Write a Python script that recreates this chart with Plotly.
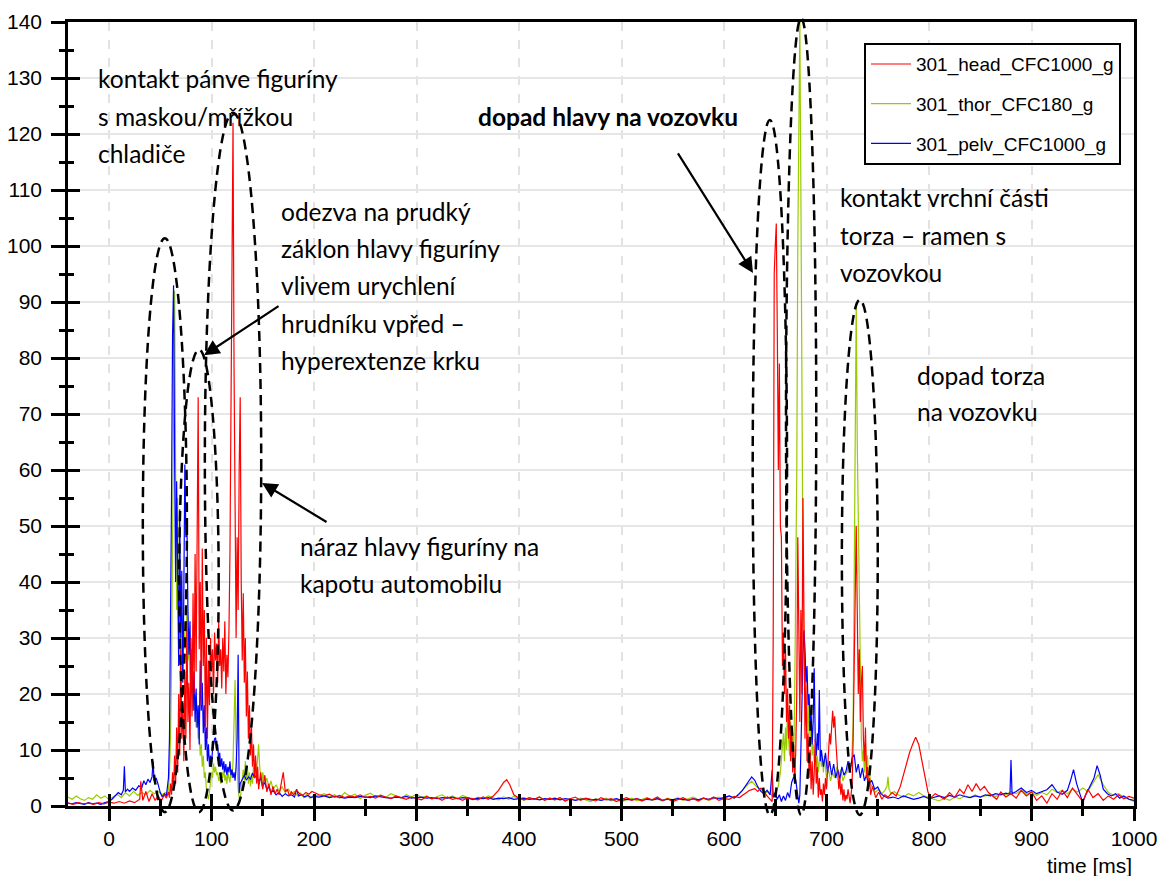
import plotly.graph_objects as go

# ---------------- data (time [ms], acceleration [g]) ----------------
head_pts = [
    (-40, 0.5), (-35, 0.3), (-30, 0.6), (-25, 0.4), (-20, 0.5), (-15, 0.3), (-10, 0.6), (-5, 0.4),
    (0, 0.7), (5, 0.5), (10, 0.8), (15, 0.5), (20, 0.9), (25, 0.6), (30, 1.2), (31, 4.4), (33, 1.0),
    (36, 2.6), (39, 0.8), (42, 2.2), (45, 1.0), (48, 1.8), (51, 0.9), (54, 2.0), (56, 1.4), (58, 2.5),
    (59, 1.5), (60, 4), (61, 2), (62, 6), (63, 3), (64, 9), (65, 4), (66, 14), (67, 6), (68, 20),
    (69, 9), (70, 28), (71, 12), (72, 18), (73, 8), (74, 24), (75, 12), (76, 33), (77, 15), (78, 22),
    (79, 10), (80, 30), (81, 16), (82, 38), (83, 20), (84, 45), (85, 24), (86, 50), (87, 73), (88, 28),
    (89, 40), (90, 18), (91, 46), (92, 25), (93, 35), (94, 14), (95, 30), (96, 12), (97, 26), (98, 18),
    (99, 30), (100, 24), (101, 28), (102, 20), (103, 31), (104, 26), (105, 29), (106, 22), (107, 33),
    (108, 25), (109, 28), (110, 21), (111, 30), (112, 24), (113, 33), (114, 20), (115, 27), (116, 23),
    (117, 31), (118, 45), (119, 70), (120, 100), (121, 122), (122, 78), (123, 40), (124, 30), (125, 48),
    (126, 35), (127, 60), (128, 73), (129, 40), (130, 26), (131, 38), (132, 22), (133, 30), (134, 16),
    (135, 24), (136, 12), (137, 18), (138, 9), (139, 14), (140, 7), (141, 11), (142, 5), (143, 9),
    (144, 4), (145, 7), (146, 3), (148, 6), (150, 3), (152, 5.5), (154, 2.5), (156, 4), (158, 2),
    (160, 3.5), (162, 2.2), (164, 3), (166, 2), (168, 4), (170, 6), (172, 2.5), (174, 3), (176, 1.8),
    (178, 2.5), (180, 2.0), (183, 2.8), (186, 2.2), (189, 1.9), (192, 2.4), (195, 2.1), (198, 2.6),
    (200, 2.4), (205, 2.0), (210, 1.8), (215, 2.1), (220, 1.6), (225, 1.9), (230, 1.5), (235, 1.8),
    (240, 1.6), (245, 2.0), (250, 1.5), (255, 1.7), (260, 1.4), (265, 1.9), (270, 1.6), (275, 1.3),
    (280, 1.8), (285, 1.5), (290, 1.2), (295, 1.6), (300, 1.4), (305, 1.1), (310, 1.7), (315, 1.3),
    (320, 1.5), (325, 1.0), (330, 1.6), (335, 1.2), (340, 1.4), (345, 1.0), (350, 1.5), (355, 1.3),
    (360, 1.1), (365, 1.6), (370, 1.2), (375, 1.8), (380, 2.8), (385, 4.2), (388, 4.7), (391, 3.8),
    (395, 2.0), (400, 1.4), (405, 1.1), (410, 1.5), (415, 1.2), (420, 1.6), (425, 1.0), (430, 1.4),
    (435, 1.1), (440, 1.5), (445, 0.9), (450, 1.3), (455, 1.6), (460, 1.0), (465, 1.4), (470, 1.2),
    (475, 0.9), (480, 1.5), (485, 1.1), (490, 1.3), (495, 0.8), (500, 1.2), (505, 1.5), (510, 1.0),
    (515, 1.3), (520, 0.9), (525, 1.4), (530, 1.1), (535, 1.6), (540, 1.0), (545, 1.3), (550, 0.8),
    (555, 1.2), (560, 1.5), (565, 1.0), (570, 1.3), (575, 0.9), (580, 1.4), (585, 1.1), (590, 1.6),
    (595, 1.0), (600, 1.3), (605, 1.2), (610, 1.7), (615, 1.5), (620, 2.2), (625, 2.8), (630, 3.1),
    (633, 2.6), (636, 3.2), (639, 2.4), (642, 1.8), (645, 1.2), (647, 0.8), (648, 30), (649, 95),
    (650, 100), (651, 104), (652, 85), (653, 60), (654, 79), (655, 50), (656, 48), (657, 25), (658, 31),
    (659, 20), (660, 28), (661, 15), (662, 21), (663, 12), (664, 18), (665, 8), (666, 14), (667, 6),
    (668, 11), (669, 4), (670, 10), (671, 20), (672, 48), (673, 30), (674, 15), (675, 35), (676, 20),
    (677, 55), (678, 28), (679, 12), (680, 22), (681, 8), (682, 13), (683, 5), (684, 10), (685, 3),
    (686, 8), (687, 2), (688, 6), (689, 12), (690, 4), (691, 7), (692, 1.5), (693, 5), (694, 2),
    (695, 3), (696, 0.8), (697, 4), (698, 2), (699, 5), (700, 3), (701, 7), (702, 10), (703, 13),
    (704, 11), (705, 15), (706, 17), (707, 14), (708, 16), (709, 12), (710, 9), (711, 6), (712, 3),
    (713, 5), (714, 2), (715, 4), (716, 1), (717, 3), (718, 0.8), (719, 2), (720, 1.2), (721, 3),
    (722, 1.5), (723, 0.5), (724, 2), (725, 4), (726, 12), (727, 28), (728, 40), (729, 50), (730, 35),
    (731, 20), (732, 28), (733, 15), (734, 22), (735, 25), (736, 12), (737, 8), (738, 14), (739, 5),
    (740, 7), (741, 3), (742, 5), (743, 2), (745, 3.5), (748, 1.5), (751, 2.5), (754, 1.2), (757, 2.0),
    (760, 1.6), (764, 2.4), (768, 1.8), (772, 3.5), (775, 5.5), (778, 8), (781, 9.5), (784, 11),
    (787, 12.3), (790, 11), (793, 8), (796, 5), (799, 2.5), (802, 1.5), (806, 2.2), (810, 1.8),
    (815, 1.2), (820, 2.4), (825, 1.5), (830, 3.0), (834, 2.2), (838, 3.8), (842, 2.6), (846, 4.0),
    (850, 2.8), (854, 3.5), (858, 2.4), (862, 1.8), (866, 1.2), (870, 2.5), (875, 1.6), (880, 2.2),
    (885, 1.4), (890, 2.8), (895, 1.8), (900, 2.5), (905, 1.0), (910, 1.8), (915, 0.5), (920, 2.2),
    (925, 1.2), (930, 2.8), (935, 1.5), (940, 3.2), (945, 2.0), (950, 0.8), (955, 3.0), (960, 1.5),
    (965, 2.2), (970, 1.0), (975, 1.8), (980, 1.2), (985, 2.0), (990, 1.3), (995, 1.7), (1000, 1.4),
]

thor_pts = [
    (-40, 1.6), (-36, 1.2), (-32, 1.8), (-28, 1.3), (-24, 1.0), (-20, 1.5), (-16, 1.2), (-12, 2.0),
    (-8, 1.4), (-4, 1.8), (0, 1.1), (4, 1.6), (8, 2.1), (12, 1.5), (16, 2.4), (20, 1.8), (24, 2.6),
    (28, 1.9), (32, 2.4), (36, 2.0), (40, 2.8), (44, 2.2), (48, 2.6), (52, 2.0), (55, 2.4), (57, 2.0),
    (58, 3.0), (59, 6), (60, 12), (61, 25), (62, 45), (63, 70), (64, 92), (65, 60), (66, 35), (67, 55),
    (68, 28), (69, 40), (70, 20), (71, 30), (72, 25), (73, 33), (74, 28), (75, 30), (76, 35), (77, 26),
    (78, 29), (79, 22), (80, 27), (81, 20), (82, 24), (83, 17), (84, 19), (85, 14), (86, 16), (87, 12),
    (88, 13), (89, 9), (90, 11), (91, 7), (92, 9), (93, 5), (94, 6), (95, 3), (96, 2), (97, 1.2),
    (98, 2.5), (99, 4), (100, 6), (101, 5), (102, 7.6), (103, 6), (104, 7), (105, 5.5), (106, 6),
    (107, 4.5), (108, 5.2), (109, 4), (110, 6), (111, 5), (112, 7), (113, 4.5), (114, 5.5), (115, 4),
    (116, 6), (117, 5), (118, 4.2), (119, 6.5), (120, 5), (121, 8), (122, 15), (123, 22.5), (124, 11),
    (125, 6), (126, 3), (127, 1.5), (128, 1.0), (129, 3), (130, 5), (131, 6.5), (132, 4.5), (133, 8),
    (134, 5), (135, 7), (136, 4), (137, 6), (138, 3.5), (139, 5.5), (140, 4), (141, 7), (142, 5),
    (143, 8), (144, 6), (145, 9), (146, 11), (147, 7), (148, 5), (149, 3.5), (150, 6), (152, 4),
    (154, 5), (156, 3.2), (158, 4.5), (160, 3), (163, 3.8), (166, 2.6), (169, 3.4), (172, 2.4),
    (175, 3.0), (178, 2.2), (181, 2.6), (184, 1.8), (187, 2.3), (190, 1.5), (193, 2.1), (196, 1.4),
    (200, 2.0), (205, 1.8), (210, 2.2), (215, 1.6), (220, 2.0), (225, 1.4), (230, 2.4), (235, 1.7),
    (240, 2.1), (245, 1.3), (250, 1.9), (255, 2.3), (260, 1.6), (265, 2.0), (270, 1.5), (275, 2.2),
    (280, 1.8), (285, 1.4), (290, 2.0), (295, 1.6), (300, 2.1), (305, 1.5), (310, 1.8), (315, 1.2),
    (320, 1.7), (325, 2.0), (330, 1.4), (335, 1.8), (340, 1.3), (345, 1.9), (350, 1.5), (355, 1.1),
    (360, 1.6), (365, 1.3), (370, 1.8), (375, 1.4), (380, 1.1), (385, 1.6), (390, 1.2), (395, 1.7),
    (400, 1.3), (405, 1.0), (410, 1.5), (415, 1.2), (420, 1.6), (425, 1.0), (430, 1.4), (435, 1.1),
    (440, 1.5), (445, 0.9), (450, 1.3), (455, 1.0), (460, 1.4), (465, 1.1), (470, 0.8), (475, 1.3),
    (480, 1.0), (485, 1.4), (490, 0.9), (495, 1.2), (500, 0.8), (505, 1.1), (510, 1.4), (515, 0.9),
    (520, 1.2), (525, 1.5), (530, 1.0), (535, 1.3), (540, 0.9), (545, 1.4), (550, 1.1), (555, 1.5),
    (560, 1.0), (565, 1.3), (570, 1.6), (575, 1.1), (580, 1.4), (585, 1.0), (590, 1.3), (595, 1.6),
    (600, 1.2), (605, 1.8), (610, 1.4), (615, 2.2), (619, 3.0), (623, 3.8), (627, 4.4), (631, 3.6),
    (635, 2.8), (639, 2.2), (643, 2.6), (647, 1.8), (650, 2.5), (653, 3.5), (655, 6), (657, 10),
    (658, 13), (659, 8), (660, 14), (661, 10), (662, 18), (663, 12), (664, 9), (665, 15), (666, 11),
    (667, 13), (668, 8), (669, 20), (670, 35), (671, 60), (672, 100), (673, 125), (674, 140),
    (675, 110), (676, 70), (677, 43), (678, 30), (679, 20), (680, 15), (681, 18), (682, 13), (683, 19),
    (684, 12), (685, 15), (686, 9), (687, 11), (688, 8), (689, 10), (690, 7), (691, 9), (692, 6),
    (693, 8), (694, 10), (695, 7), (696, 8.5), (697, 6), (698, 9), (699, 7), (700, 5), (702, 6.5),
    (704, 4.5), (706, 6), (708, 5), (710, 7), (712, 5.5), (714, 6.5), (716, 4.5), (718, 5.5), (720, 6),
    (722, 8), (724, 7), (725, 10), (726, 15), (727, 40), (728, 75), (729, 90), (730, 65), (731, 50),
    (732, 37), (733, 20), (734, 12), (735, 8), (736, 10), (737, 6), (738, 11), (739, 7), (740, 9),
    (741, 5), (742, 6), (743, 4), (745, 3.2), (748, 2.5), (751, 3.0), (754, 2.2), (757, 2.8),
    (759, 3.5), (760, 5.2), (761, 3), (763, 2.2), (766, 2.6), (770, 2.0), (775, 1.6), (780, 2.2),
    (785, 1.8), (790, 2.4), (795, 1.8), (800, 1.5), (805, 1.2), (810, 0.9), (815, 1.4), (820, 1.0),
    (825, 1.6), (830, 1.3), (835, 1.8), (840, 1.5), (845, 2.0), (850, 1.6), (855, 1.8), (860, 2.1),
    (865, 1.7), (870, 2.3), (875, 2.0), (880, 2.6), (885, 2.2), (890, 2.8), (895, 2.1), (900, 2.5),
    (905, 1.9), (910, 2.4), (915, 2.0), (920, 3.0), (925, 2.4), (930, 2.8), (935, 2.2), (940, 3.0),
    (945, 2.5), (950, 3.2), (955, 2.6), (960, 4.2), (965, 5.6), (970, 3.8), (975, 2.4), (980, 1.9),
    (985, 2.2), (990, 1.6), (995, 1.2), (1000, 0.8),
]

pelv_pts = [
    (-40, 0.5), (-36, 0.4), (-32, 0.6), (-28, 0.5), (-24, 0.3), (-20, 0.6), (-16, 0.4), (-12, 0.5),
    (-8, 0.3), (-4, 0.6), (0, 0.8), (3, 1.2), (6, 1.8), (9, 2.4), (12, 2.0), (14, 2.8), (15, 7.1),
    (16, 2.5), (18, 3.0), (20, 2.6), (23, 3.2), (26, 2.8), (29, 3.6), (32, 3.3), (34, 4.5), (36, 3.8),
    (38, 4.8), (40, 4.2), (42, 5.2), (43, 8.0), (44, 4.5), (46, 5.0), (48, 3.8), (50, 2.4), (52, 1.6),
    (54, 2.2), (56, 1.8), (57, 3.0), (58, 5), (59, 12), (60, 30), (61, 55), (62, 84), (63, 93),
    (64, 62), (65, 40), (66, 58), (67, 35), (68, 25), (69, 53), (70, 30), (71, 42), (72, 22), (73, 38),
    (74, 61), (75, 48), (76, 51), (77, 35), (78, 27), (79, 33), (80, 20), (81, 28), (82, 17), (83, 24),
    (84, 15), (85, 21), (86, 14), (87, 18), (88, 11), (89, 26), (90, 17), (91, 22), (92, 13), (93, 18),
    (94, 10), (95, 14), (96, 8), (97, 11), (98, 7), (99, 9), (100, 7.5), (101, 10), (102, 11),
    (103, 12), (104, 12.2), (105, 10), (106, 11), (107, 8), (108, 9.5), (109, 7), (110, 8.5),
    (111, 6.5), (112, 8), (113, 6), (114, 7.5), (115, 5.5), (116, 7), (117, 6), (118, 8), (119, 5.5),
    (120, 6.5), (121, 5), (122, 6), (123, 4.5), (124, 7), (125, 12), (126, 27), (127, 2.3), (128, 4),
    (130, 4.8), (132, 5.5), (134, 4.6), (136, 5.2), (138, 4.8), (140, 5.9), (142, 5.0), (144, 5.5),
    (146, 4.2), (148, 5.0), (150, 3.6), (152, 4.2), (154, 3.0), (156, 3.4), (158, 2.4), (160, 2.8),
    (163, 2.0), (166, 2.4), (169, 1.7), (172, 2.2), (175, 1.8), (178, 2.0), (181, 1.6), (183, 3.0),
    (185, 1.8), (188, 2.0), (191, 1.6), (194, 1.9), (197, 1.5), (200, 1.7), (205, 1.6), (210, 1.8),
    (215, 1.5), (220, 1.7), (225, 1.6), (230, 1.4), (235, 1.6), (240, 1.5), (245, 1.7), (250, 1.6),
    (255, 1.5), (260, 1.8), (265, 1.6), (270, 1.5), (275, 1.4), (280, 1.6), (285, 1.5), (290, 1.7),
    (295, 1.4), (300, 1.5), (305, 1.6), (310, 1.4), (315, 1.5), (320, 1.3), (325, 1.5), (330, 1.4),
    (335, 1.6), (340, 1.3), (345, 1.5), (350, 1.4), (355, 1.2), (360, 1.4), (365, 1.3), (370, 1.5),
    (375, 1.2), (380, 1.4), (385, 1.3), (390, 1.5), (395, 1.2), (400, 1.3), (405, 1.4), (410, 1.2),
    (415, 1.3), (420, 1.1), (425, 1.3), (430, 1.2), (435, 1.4), (440, 1.1), (445, 1.3), (450, 1.2),
    (455, 1.0), (460, 1.2), (465, 1.3), (470, 1.1), (475, 1.2), (480, 1.0), (485, 1.2), (490, 1.1),
    (495, 1.3), (500, 1.0), (505, 1.2), (510, 1.1), (515, 1.3), (520, 1.0), (525, 1.2), (530, 1.1),
    (535, 1.3), (540, 1.0), (545, 1.2), (550, 1.1), (555, 1.3), (560, 1.2), (565, 1.0), (570, 1.3),
    (575, 1.1), (580, 1.4), (585, 1.2), (590, 1.5), (595, 1.3), (600, 1.5), (605, 1.8), (610, 1.4),
    (614, 2.0), (618, 2.8), (621, 3.6), (624, 4.4), (627, 5.2), (630, 4.6), (633, 3.4), (636, 2.6),
    (639, 2.2), (642, 2.8), (645, 2.0), (647, 6.4), (648, 1.5), (650, 2.4), (652, 1.2), (654, 2.0),
    (656, 0.8), (658, 1.8), (660, 1.0), (662, 2.4), (664, 1.5), (666, 4.2), (668, 5.2), (670, 4.6),
    (671, 3.0), (672, 1.5), (673, 0.5), (674, 2), (675, 8), (676, 18), (677, 27), (678, 31.4),
    (679, 28), (680, 22), (681, 25), (682, 18), (683, 20), (684, 14), (685, 17), (686, 11), (687, 15),
    (688, 24.6), (689, 12), (690, 9), (691, 13), (692, 10), (693, 20.7), (694, 8), (695, 10), (697, 7),
    (699, 9.5), (701, 6), (703, 8), (705, 5.5), (707, 7.5), (709, 5), (711, 6.5), (713, 4.8), (715, 7),
    (717, 5.5), (719, 6.2), (721, 8), (723, 6), (725, 8.6), (727, 9.2), (729, 6), (731, 7.5), (733, 5),
    (735, 6.8), (737, 4.5), (739, 5.5), (741, 3.8), (744, 4.6), (747, 3.0), (750, 3.4), (753, 2.2),
    (756, 1.8), (760, 1.4), (765, 1.6), (770, 1.3), (775, 1.8), (780, 1.5), (785, 1.2), (790, 1.4),
    (795, 1.7), (800, 1.3), (805, 1.6), (810, 1.8), (815, 1.5), (820, 1.9), (825, 1.6), (830, 2.0),
    (835, 1.7), (840, 1.5), (845, 1.8), (850, 1.6), (855, 2.0), (860, 1.8), (865, 2.2), (870, 2.0),
    (875, 2.3), (879, 2.1), (880, 8.2), (881, 2.2), (885, 2.6), (890, 3.2), (895, 2.4), (900, 2.8),
    (905, 2.2), (910, 2.6), (915, 2.9), (920, 3.8), (925, 2.5), (930, 2.1), (935, 2.8), (938, 4.5),
    (941, 6.5), (944, 4.0), (947, 2.2), (950, 0.6), (953, 2.0), (957, 3.5), (961, 5.0), (964, 7.2),
    (967, 5.5), (970, 3.0), (974, 2.2), (978, 1.8), (982, 2.2), (986, 1.4), (990, 1.8), (995, 1.2),
    (1000, 1.0),
]

series_names = ["301_head_CFC1000_g", "301_thor_CFC180_g", "301_pelv_CFC1000_g"]
series_colors = ["#ff0000", "#99cc00", "#0000ff"]
x_tick_vals = [0, 100, 200, 300, 400, 500, 600, 700, 800, 900, 1000]
y_tick_vals = list(range(0, 150, 10))

# highlighted regions (time ms, g)
ellipses = [
    (33, 76, -1.1, 101.4),
    (68.5, 107, -1.1, 81.5),
    (93.5, 148.5, -0.8, 123.8),
    (628, 661.5, -1.6, 122.5),
    (660.5, 690, -1.6, 140.7),
    (715, 750, -1.6, 90.4),
]

# ---------------- figure ----------------
fig = go.Figure()
series = [head_pts, thor_pts, pelv_pts]
draw_order = [1, 2, 0]
for i in draw_order:
    t, v = zip(*series[i])
    fig.add_trace(go.Scatter(
        x=list(t), y=list(v), mode="lines", name=series_names[i],
        line=dict(color=series_colors[i], width=1.2),
        legendgroup=series_names[i], legendrank=i + 1,
    ))

# helper trace for inner tick marks
fig.add_trace(go.Scatter(x=[None], y=[None], xaxis="x2", yaxis="y2",
                         showlegend=False, hoverinfo="skip"))

tickfont = dict(family="Liberation Sans, Arial", size=21, color="black")
fig.update_layout(
    width=1161, height=876,
    margin=dict(l=68, r=27, t=22, b=70, autoexpand=False),
    plot_bgcolor="white", paper_bgcolor="white",
    showlegend=True,
    xaxis=dict(
        range=[-40, 1000], tickvals=x_tick_vals, showline=True, linecolor="black", linewidth=2.5,
        mirror=True, ticks="outside", ticklen=12, tickwidth=2.5, tickcolor="black",
        showgrid=True, gridcolor="#e2e2e2", griddash="dash", gridwidth=1.5, zeroline=False,
        tickfont=tickfont, automargin=False,
        minor=dict(ticks="outside", ticklen=7, tickwidth=2.5, tickcolor="black",
                   dtick=50, tick0=0, showgrid=False),
    ),
    yaxis=dict(
        range=[0, 140], tickvals=y_tick_vals, showline=True, linecolor="black", linewidth=2.5,
        mirror=True, ticks="outside", ticklen=14, tickwidth=2.5, tickcolor="black",
        showgrid=True, gridcolor="#e6e6e6", gridwidth=1.5, zeroline=False,
        tickfont=tickfont, ticklabelstandoff=5, automargin=False,
        minor=dict(ticks="outside", ticklen=6, tickwidth=2.5, tickcolor="black",
                   dtick=5, tick0=0, showgrid=False),
    ),
    xaxis2=dict(
        range=[-40, 1000], overlaying="x", anchor="y2", side="bottom", tickvals=x_tick_vals,
        ticks="inside", ticklen=12, tickwidth=2.5, tickcolor="black", showticklabels=False,
        showgrid=False, showline=False, zeroline=False, automargin=False,
        minor=dict(ticks="inside", ticklen=7, tickwidth=2.5, tickcolor="black", dtick=50, tick0=0,
                   showgrid=False),
    ),
    yaxis2=dict(
        range=[0, 140], overlaying="y", anchor="x2", side="left", tickvals=y_tick_vals,
        ticks="inside", ticklen=12, tickwidth=2.5, tickcolor="black", showticklabels=False,
        showgrid=False, showline=False, zeroline=False, automargin=False,
        minor=dict(ticks="inside", ticklen=6, tickwidth=2.5, tickcolor="black", dtick=5, tick0=0,
                   showgrid=False),
    ),
    legend=dict(
        x=0.7467, y=0.973, xanchor="left", yanchor="top",
        bgcolor="white", bordercolor="black", borderwidth=2,
        font=dict(family="Liberation Sans, Arial", size=19, color="black"),
        tracegroupgap=12, itemwidth=40,
    ),
)

for (x0, x1, y0, y1) in ellipses:
    fig.add_shape(type="circle", xref="x", yref="paper", x0=x0, x1=x1,
                  y0=y0 / 140, y1=y1 / 140,
                  line=dict(color="black", width=2.5, dash="10px,6px"), layer="above")

# ---------------- text annotations ----------------
txt_font = dict(family="Lato, Noto Sans", size=24.5, color="black")
text_blocks = [
    (-12.7, [130.0, 123.2, 116.6], ["kontakt pánve figuríny", "s maskou/mřížkou", "chladiče"]),
    (165.9, [106.1, 99.5, 92.9, 86.25, 79.6],
     ["odezva na prudký", "záklon hlavy figuríny", "vlivem urychlení", "hrudníku vpřed –",
      "hyperextenze krku"]),
    (184.4, [46.4, 39.8], ["náraz hlavy figuríny na", "kapotu automobilu"]),
    (358.0, [123.2], ["<b>dopad hlavy na vozovku</b>"]),
    (711.2, [108.75, 101.8, 95.2], ["kontakt vrchní části", "torza – ramen s", "vozovkou"]),
    (786.3, [76.8, 70.5], ["dopad torza", "na vozovku"]),
]
for x, ys, lines in text_blocks:
    for y, line in zip(ys, lines):
        fig.add_annotation(x=x, y=y, xref="x", yref="y", text=line, showarrow=False,
                           xanchor="left", yanchor="middle", font=txt_font)

arrows = [
    (92.7, 80.5, 76, -50),
    (149.3, 57.7, 66, 40),
    (628.3, 95.2, -76, -121),
]
for x, y, ax, ay in arrows:
    fig.add_annotation(x=x, y=y, xref="x", yref="y", ax=ax, ay=ay, text="",
                       showarrow=True, arrowhead=2, arrowsize=1.4, arrowwidth=2.2,
                       arrowcolor="black")

fig.add_annotation(x=1, y=-0.0765, xref="paper", yref="paper", text="time [ms]",
                   showarrow=False, xanchor="right", yanchor="middle",
                   font=dict(family="Liberation Sans, Arial", size=21, color="black"))

fig.write_html("out.html")
